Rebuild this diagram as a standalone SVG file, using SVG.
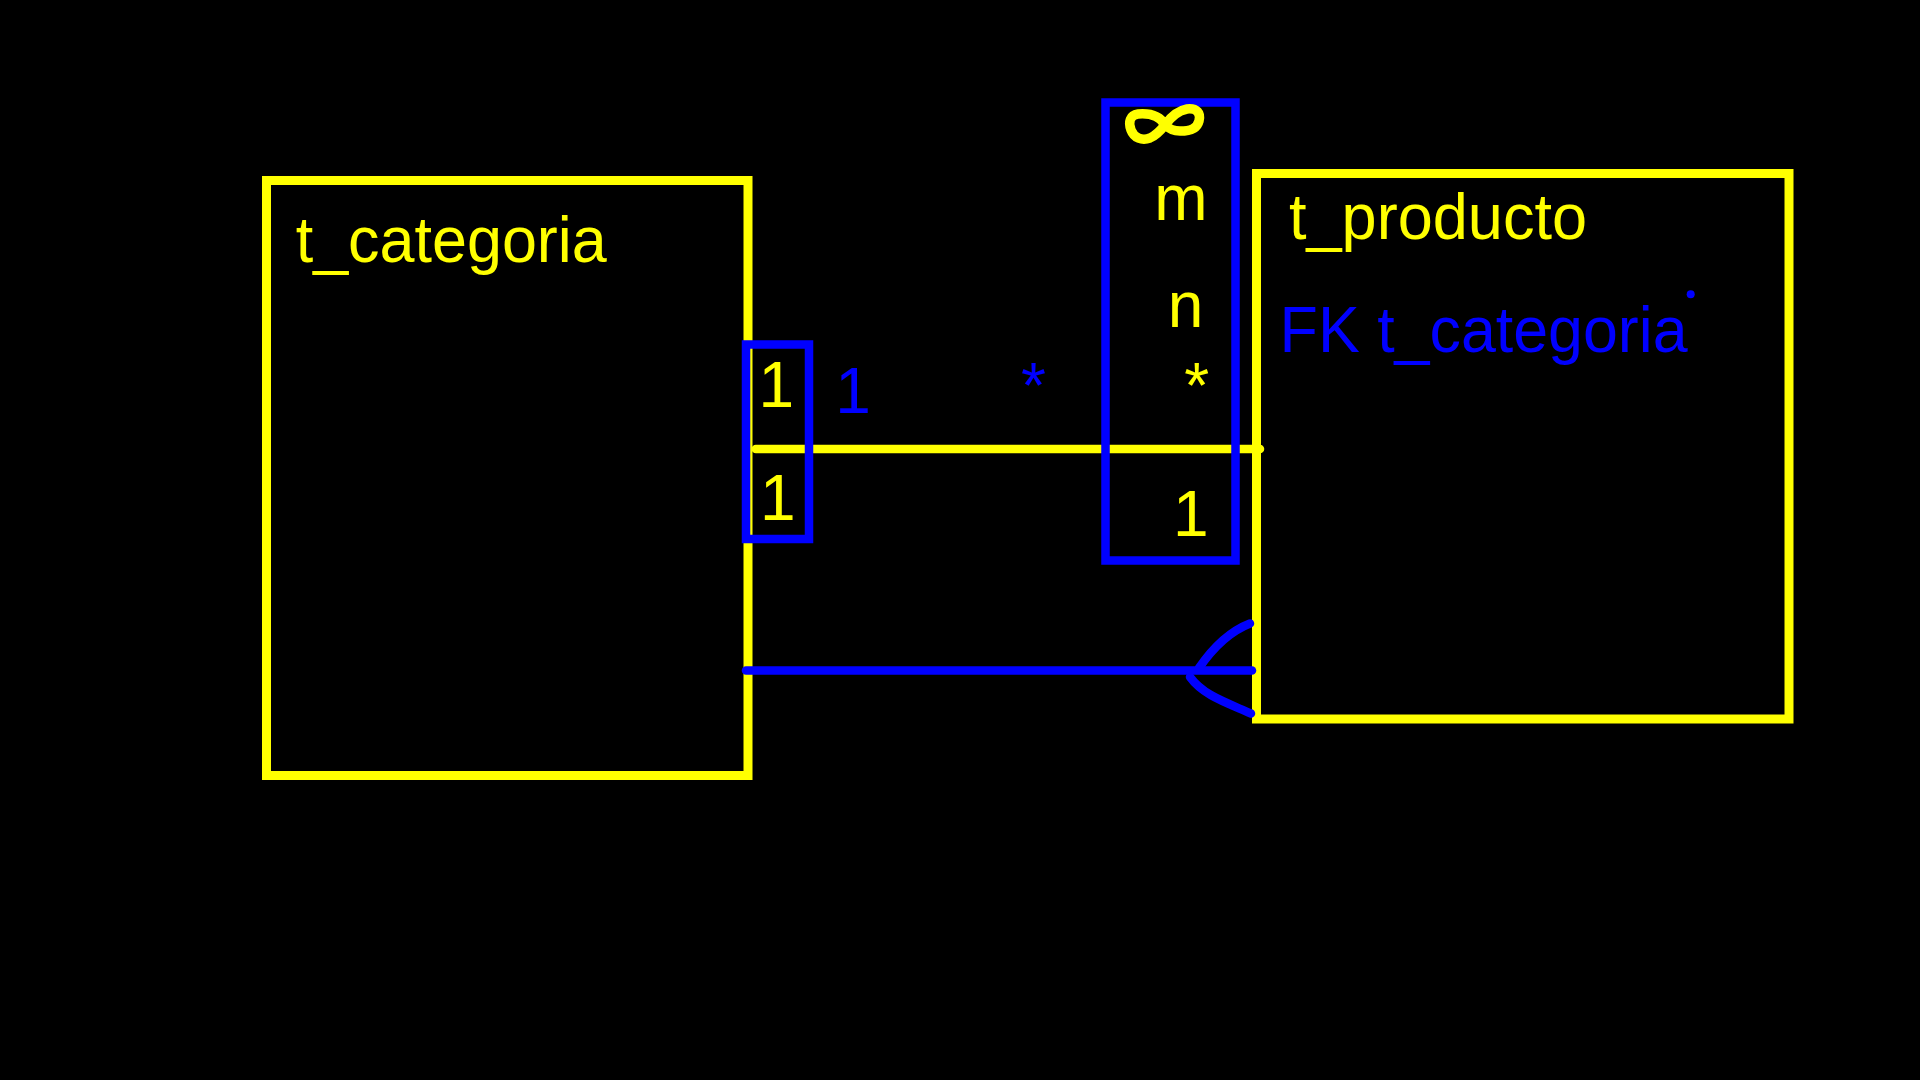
<svg xmlns="http://www.w3.org/2000/svg" width="1920" height="1080" viewBox="0 0 1920 1080">
<style>
.bg{fill:#000}
.ybox{fill:none;stroke:#FFFF00;stroke-width:9}
.bbox{fill:none;stroke:#0000FF;stroke-width:8.5}
.yl{fill:none;stroke:#FFFF00;stroke-width:8.5;stroke-linecap:round}
.bl{fill:none;stroke:#0000FF;stroke-width:8.5;stroke-linecap:round;stroke-linejoin:round}
text{font-family:"Liberation Sans",Arial,sans-serif;font-size:64px}
.y{fill:#FFFF00}
.b{fill:#0000FF}
.m{text-anchor:middle}
</style>
<rect class="bg" x="0" y="0" width="1920" height="1080"/>
<g id="t_categoria">
<rect class="ybox" x="266.5" y="180.5" width="481.5" height="595"/>
<text class="y" x="295.7" y="261.7" textLength="311" lengthAdjust="spacingAndGlyphs">t_categoria</text>
</g>
<g id="t_producto">
<rect class="ybox" x="1256.5" y="173.5" width="532.5" height="545.5"/>
<text class="y" x="1289" y="239" textLength="298" lengthAdjust="spacingAndGlyphs">t_producto</text>
<text class="b" x="1279.6" y="352.3" textLength="408" lengthAdjust="spacingAndGlyphs">FK t_categoria</text>
<circle class="b" cx="1690.7" cy="294.3" r="4"/>
</g>
<g id="connectors">
<line class="yl" x1="755.8" y1="449" x2="1260" y2="449"/>
<line class="bl" x1="746" y1="670.5" x2="1252" y2="670.5"/>
<path class="bl" d="M1250,623.5 C1228,632 1210,652 1199,668"/>
<path class="bl" d="M1190,677 C1203,695 1225,702 1251,713.5"/>
</g>
<g id="cardinalidad_categoria">
<rect class="bbox" x="746" y="344.5" width="63" height="194.5"/>
<text class="y m" x="776.4" y="406.7">1</text>
<text class="y m" x="777.7" y="520">1</text>
</g>
<g id="etiquetas">
<text class="b m" x="853" y="412.7">1</text>
<text class="b m" x="1033.4" y="407.5">*</text>
</g>
<g id="cardinalidad_producto">
<rect class="bbox" x="1105.5" y="102.5" width="130" height="458"/>
<path fill="none" stroke="#FFFF00" stroke-width="9.5" stroke-linecap="round" stroke-linejoin="round" d="M1165,125 C1160,116 1150,113 1138,114 C1130,115 1128,122 1131,130 C1134,138 1142,141 1150,138 C1157,135 1161,130 1165,125 C1170,118 1176,111 1187,109 C1197,108 1201,113 1199,121 C1197,129 1190,131 1180,131 C1172,131 1168,128 1165,125 Z"/>
<text class="y m" x="1180.8" y="220">m</text>
<text class="y m" x="1185.5" y="326.7">n</text>
<text class="y m" x="1196.7" y="407.5">*</text>
<text class="y m" x="1190.7" y="535.7">1</text>
</g>
</svg>
